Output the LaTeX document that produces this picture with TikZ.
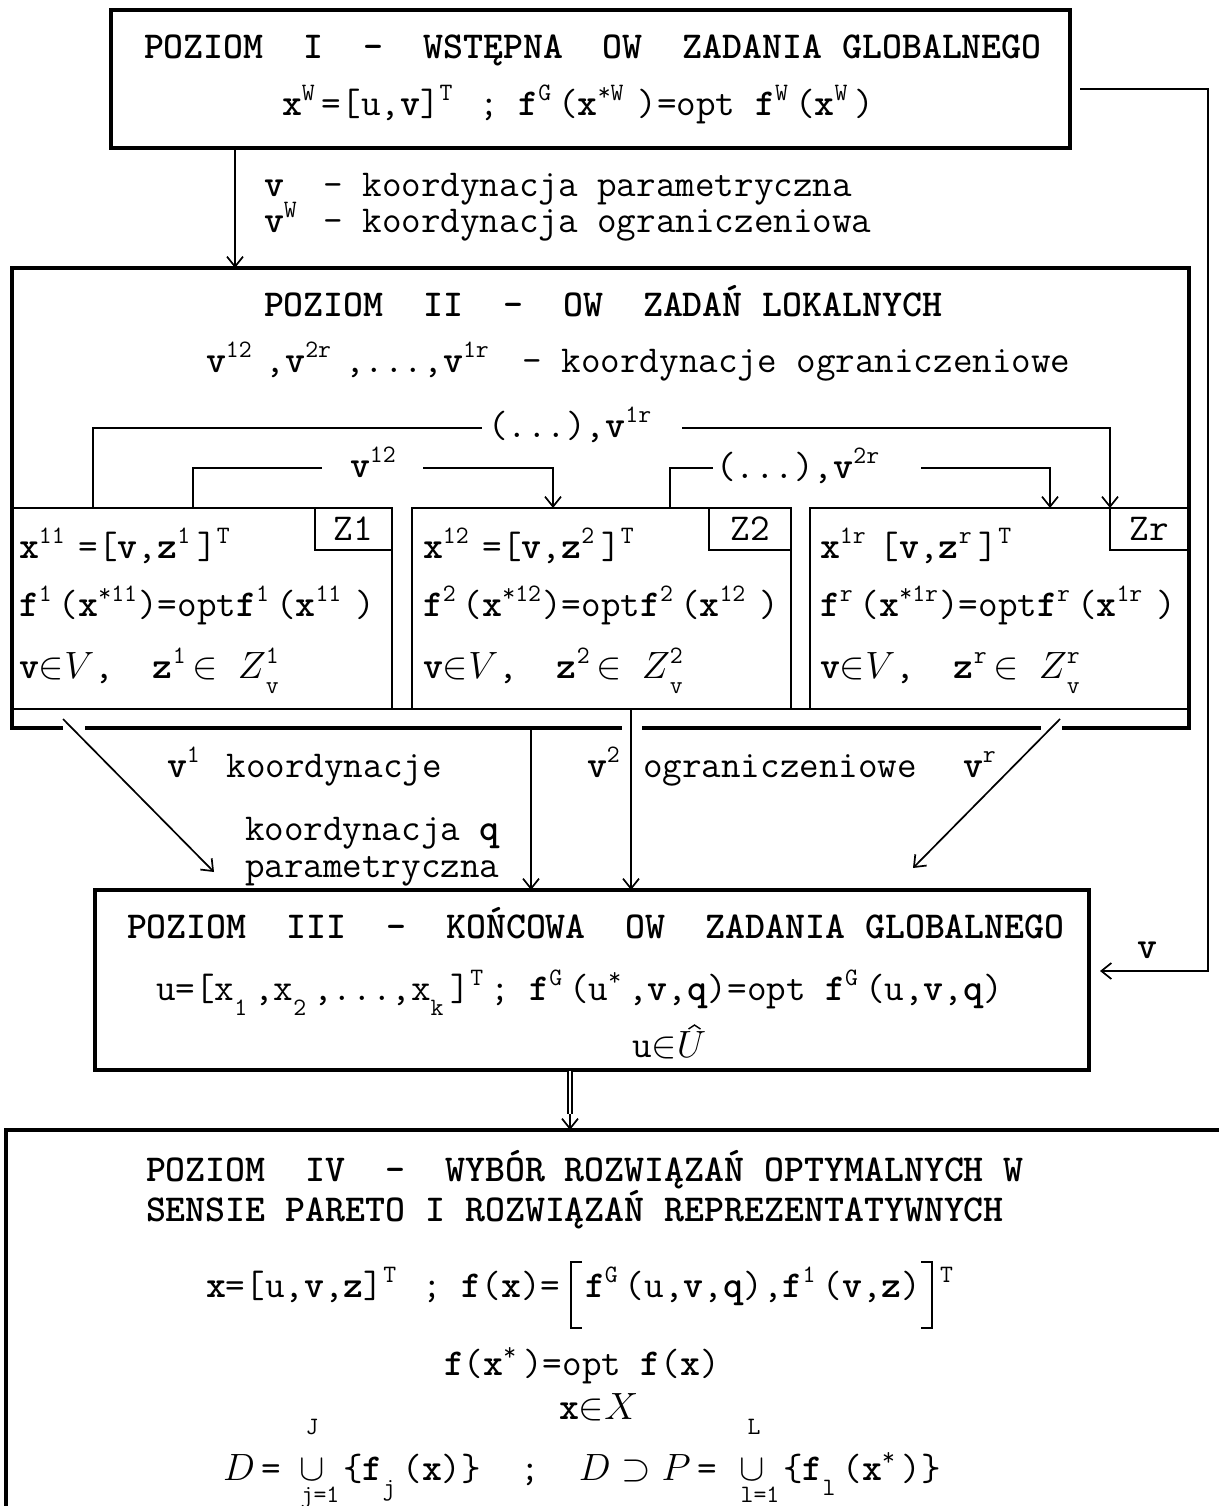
\RequirePackage{fix-cm}
\documentclass[tikz,border=0pt]{standalone}
\usetikzlibrary{arrows.meta}
\newlength\cellw
\setlength\cellw{19.95pt}
\newcommand\mytf{\fontsize{38}{44}\selectfont\ttfamily}
\newcommand\mysm{\fontsize{25}{27}\selectfont}
\newcommand\myup[2][1]{\makebox[#1\cellw][l]{\raisebox{15pt}{\mysm #2}}}
\newcommand\mydn[2][1]{\makebox[#1\cellw][l]{\raisebox{-15pt}{\mysm #2}}}
\newcommand\myud[2]{\makebox[\cellw][l]{\rlap{\raisebox{15pt}{\mysm #1}}\raisebox{-15pt}{\mysm #2}}}
\newcommand\mybf[1]{\textbf{#1}}
\tikzset{
 thk/.style={line width=3.5pt},
 thn/.style={line width=1.7pt},
 bigbox/.style={draw, thk, inner sep=0pt, outer sep=0pt},
 zbox/.style={draw, thn, inner sep=0pt, outer sep=0pt},
 ghost/.style={inner sep=0pt, outer sep=0pt},
 txt/.style={inner sep=0pt, outer sep=0pt, anchor=base west, font=\mytf},
 ctxt/.style={inner sep=0pt, outer sep=0pt, anchor=base, font=\mytf},
 lim/.style={inner sep=0pt, outer sep=0pt, anchor=base, font=\mytf\mysm},
 arr/.style={thn, -{Straight Barb[length=10pt,width=16pt]}},
}
\begin{document}
\begin{tikzpicture}[x=1pt,y=-1pt]
\useasboundingbox (0,0) rectangle (1218,1506);
\fill[white] (0,0) rectangle (1218,1506);

% ---------- boxes ----------
\node[bigbox, minimum width=959pt, minimum height=138pt] (b1) at (590.5,79) {};
\node[ghost, minimum width=1177pt, minimum height=460pt] (b2) at (600.5,498) {};
\node[bigbox, minimum width=994pt, minimum height=180pt] (b3) at (592,980) {};
\node[bigbox, minimum width=1224pt, minimum height=400pt] (b4) at (618,1330) {};

\node[zbox, minimum width=380pt, minimum height=201pt] (z1) at (202,608.5) {};
\node[zbox, minimum width=379pt, minimum height=201pt] (z2) at (601.5,608.5) {};
\node[zbox, minimum width=379pt, minimum height=201pt] (zr) at (999.5,608.5) {};
\node[zbox, minimum width=77pt, minimum height=42pt, font=\mytf] (t1) at (353.5,529) {Z1};
\node[zbox, minimum width=82pt, minimum height=42pt, font=\mytf] (t2) at (750,529) {Z2};
\node[zbox, minimum width=79pt, minimum height=42pt, font=\mytf] (tr) at (1149.5,529) {Zr};

% box II outline with gaps in the bottom edge
\coordinate (g1) at (63,728);
\coordinate (g2) at (85,728);
\coordinate (g3) at (622,728);
\coordinate (g4) at (642,728);
\coordinate (g5) at (1041,728);
\coordinate (g6) at (1062,728);
\draw[thk, line join=miter] (g1) -- (b2.south west) -- (b2.north west) -- (b2.north east) -- (b2.south east) -- (g6);
\draw[thk] (g2) -- (g3) (g4) -- (g5);
\draw[thn] (z1.south west) -- (zr.south east);

% ---------- texts, level I ----------
\node[txt] (t1a) at (144,59) {\mybf{POZIOM~~I~~-~~WSTĘPNA~~OW~~ZADANIA GLOBALNEGO}};
\node[txt] (t1b) at (282,116) {\mybf{x}\myup{W}=[u,\mybf{v}]\myup{T}~;~\mybf{f}\myup{G}(\mybf{x}\myup[2]{*W})=opt~\mybf{f}\myup{W}(\mybf{x}\myup{W})};

\node[txt] (l1) at (264,197) {\mybf{v}\myup{}~-~koordynacja parametryczna};
\node[txt] (l2) at (264,233) {\mybf{v}\myup{W}~-~koordynacja ograniczeniowa};

% ---------- level II ----------
\node[txt] (t2a) at (264,316) {\mybf{POZIOM~~II~~-~~OW~~ZADAŃ LOKALNYCH}};
\node[txt] (t2b) at (206,372) {\mybf{v}\myup[2]{12},\mybf{v}\myup[2]{2r},...,\mybf{v}\myup[2]{1r}~-~koordynacje ograniczeniowe};

\node[txt] (z1a) at (19,558) {\mybf{x}\myup[2]{11}=[\mybf{v},\mybf{z}\myup{1}]\myup{T}};
\node[txt] (z1b) at (19,616) {\mybf{f}\myup{1}(\mybf{x}\myup[2]{*11})=opt\mybf{f}\myup{1}(\mybf{x}\myup[2]{11})};
\node[txt] (z1c) at (19,678) {\mybf{v}$\in$$V$,~~\mybf{z}\myup{1}$\in$~$Z$\myud{1}{v}};

\node[txt] (z2a) at (423,558) {\mybf{x}\myup[2]{12}=[\mybf{v},\mybf{z}\myup{2}]\myup{T}};
\node[txt] (z2b) at (423,616) {\mybf{f}\myup{2}(\mybf{x}\myup[2]{*12})=opt\mybf{f}\myup{2}(\mybf{x}\myup[2]{12})};
\node[txt] (z2c) at (423,678) {\mybf{v}$\in$$V$,~~\mybf{z}\myup{2}$\in$~$Z$\myud{2}{v}};

\node[txt] (zra) at (820,558) {\mybf{x}\myup[2]{1r}[\mybf{v},\mybf{z}\myup{r}]\myup{T}};
\node[txt] (zrb) at (820,616) {\mybf{f}\myup{r}(\mybf{x}\myup[2]{*1r})=opt\mybf{f}\myup{r}(\mybf{x}\myup[2]{1r})};
\node[txt] (zrc) at (820,678) {\mybf{v}$\in$$V$,~~\mybf{z}\myup{r}$\in$~$Z$\myud{r}{v}};

% connectors inside level II
\coordinate (k1s) at (93,508);
\coordinate (k1a) at (482,428);
\coordinate (k1b) at (682,428);
\draw[thn] (k1s) |- (k1a);
\draw[arr] (k1b) -| (tr.north west);
\node[txt] (k1l) at (488,437) {(...),\mybf{v}\myup[2]{1r}};

\coordinate (k2s) at (193,508);
\coordinate (k2a) at (322,468);
\coordinate (k2b) at (423,468);
\coordinate (k2e) at (553,508);
\draw[thn] (k2s) |- (k2a);
\draw[arr] (k2b) -| (k2e);
\node[txt] (k2l) at (350,477) {\mybf{v}\myup[2]{12}};

\coordinate (k3s) at (670,508);
\coordinate (k3a) at (713,468);
\coordinate (k3b) at (921,468);
\coordinate (k3e) at (1050,508);
\draw[thn] (k3s) |- (k3a);
\draw[arr] (k3b) -| (k3e);
\node[txt] (k3l) at (716,478) {(...),\mybf{v}\myup[2]{2r}};

% ---------- between II and III ----------
\node[txt] (m1) at (167,777) {\mybf{v}\myup{1}~koordynacje};
\node[txt] (m2) at (587,777) {\mybf{v}\myup{2}};
\node[txt] (m3) at (643,777) {ograniczeniowe};
\node[txt] (m4) at (963,777) {\mybf{v}\myup{r}};
\node[txt] (m5) at (245,840) {koordynacja~\mybf{q}};
\node[txt] (m6) at (245,877) {parametryczna};

\coordinate (d1s) at (63,719);
\coordinate (d1e) at (214,872);
\coordinate (d2s) at (531,728);
\coordinate (d3s) at (631,709);
\coordinate (d4s) at (1060,719);
\coordinate (d4e) at (913,868);
\draw[arr] (d1s) -- (d1e);
\draw[arr] (d2s) -- (d2s |- b3.north);
\draw[arr] (d3s) -- (d3s |- b3.north);
\draw[arr] (d4s) -- (d4e);

% I -> II
\coordinate (a1) at (235,148);
\draw[arr] (a1) -- (a1 |- b2.north);

% I -> III (right side)
\coordinate (r1) at (1080,89);
\coordinate (r2) at (1208,971);
\coordinate (r3) at (1100,971);
\draw[arr] (r1) -| (r2) -- (r3);
\node[ctxt] (rv) at (1147,958) {\mybf{v}};

% ---------- level III ----------
\node[txt] (t3a) at (127,938) {\mybf{POZIOM~~III~~-~~KOŃCOWA~~OW~~ZADANIA GLOBALNEGO}};
\node[txt] (t3b) at (156,1000) {u=[x\mydn{1},x\mydn{2},...,x\mydn{k}]\myup{T};~\mybf{f}\myup{G}(u\myup{*},\mybf{v},\mybf{q})=opt~\mybf{f}\myup{G}(u,\mybf{v},\mybf{q})};
\node[txt] (t3c) at (632,1057) {u$\in$};
\node[txt] (t3u) at (t3c.base east) {$U$};
\coordinate (hat) at ([xshift=3pt,yshift=6pt]t3u.north);
\draw[line width=1.4pt] ([xshift=-6pt,yshift=-4pt]hat) -- (hat) -- ([xshift=6pt,yshift=-4pt]hat);

% III => IV double arrow
\coordinate (dd1) at (570,1071);
\coordinate (dd2) at (570,1114);
\draw[double, double distance=2.6pt, line width=1.3pt] (dd1) -- (dd2);
\draw[arr] (dd2) -- (dd2 |- b4.north);

% ---------- level IV ----------
\node[txt] (t4a) at (146,1181) {\mybf{POZIOM~~IV~~-~~WYBÓR ROZWIĄZAŃ OPTYMALNYCH W}};
\node[txt] (t4b) at (146,1221) {\mybf{SENSIE PARETO I ROZWIĄZAŃ REPREZENTATYWNYCH}};
\node[txt] (t4c) at (206,1297) {\mybf{x}=[u,\mybf{v},\mybf{z}]\myup{T}~;~\mybf{f}(\mybf{x})=};
\node[txt] (t4d) at (585,1297) {\mybf{f}\myup{G}(u,\mybf{v},\mybf{q}),\mybf{f}\myup{1}(\mybf{v},\mybf{z})};
\coordinate (br1) at (571,1262);
\coordinate (br2) at (932,1262);
\draw[line width=2.6pt] ([xshift=11pt]br1) -- (br1) -- ++(0,66) -- ++(11,0);
\draw[line width=2.6pt] ([xshift=-11pt]br2) -- (br2) -- ++(0,66) -- ++(-11,0);
\node[txt] (t4e) at (940,1297) {\myup{T}};
\node[txt] (t4f) at (444,1375) {\mybf{f}(\mybf{x}\myup{*})=opt~\mybf{f}(\mybf{x})};
\node[txt] (t4g) at (559,1419) {\mybf{x}$\in$$X$};

% union line, built from pieces
\node[txt] (u1) at (223,1480) {$D$\hspace{7pt}=};
\node[ctxt] (c1) at (312,1480) {$\cup$};
\node[lim] (c1t) at (312,1434) {J};
\node[lim] (c1b) at (320,1502) {j=1};
\node[txt] (u2) at (343,1480) {\{\mybf{f}\mydn{j}(\mybf{x})\}~~;~~$D\supset P$\hspace{7pt}=};
\node[ctxt] (c2) at (752,1480) {$\cup$};
\node[lim] (c2t) at (754,1434) {L};
\node[lim] (c2b) at (760,1502) {l=1};
\node[txt] (u3) at (783,1480) {\{\mybf{f}\mydn{l}(\mybf{x}\myup{*})\}};
\end{tikzpicture}
\end{document}
